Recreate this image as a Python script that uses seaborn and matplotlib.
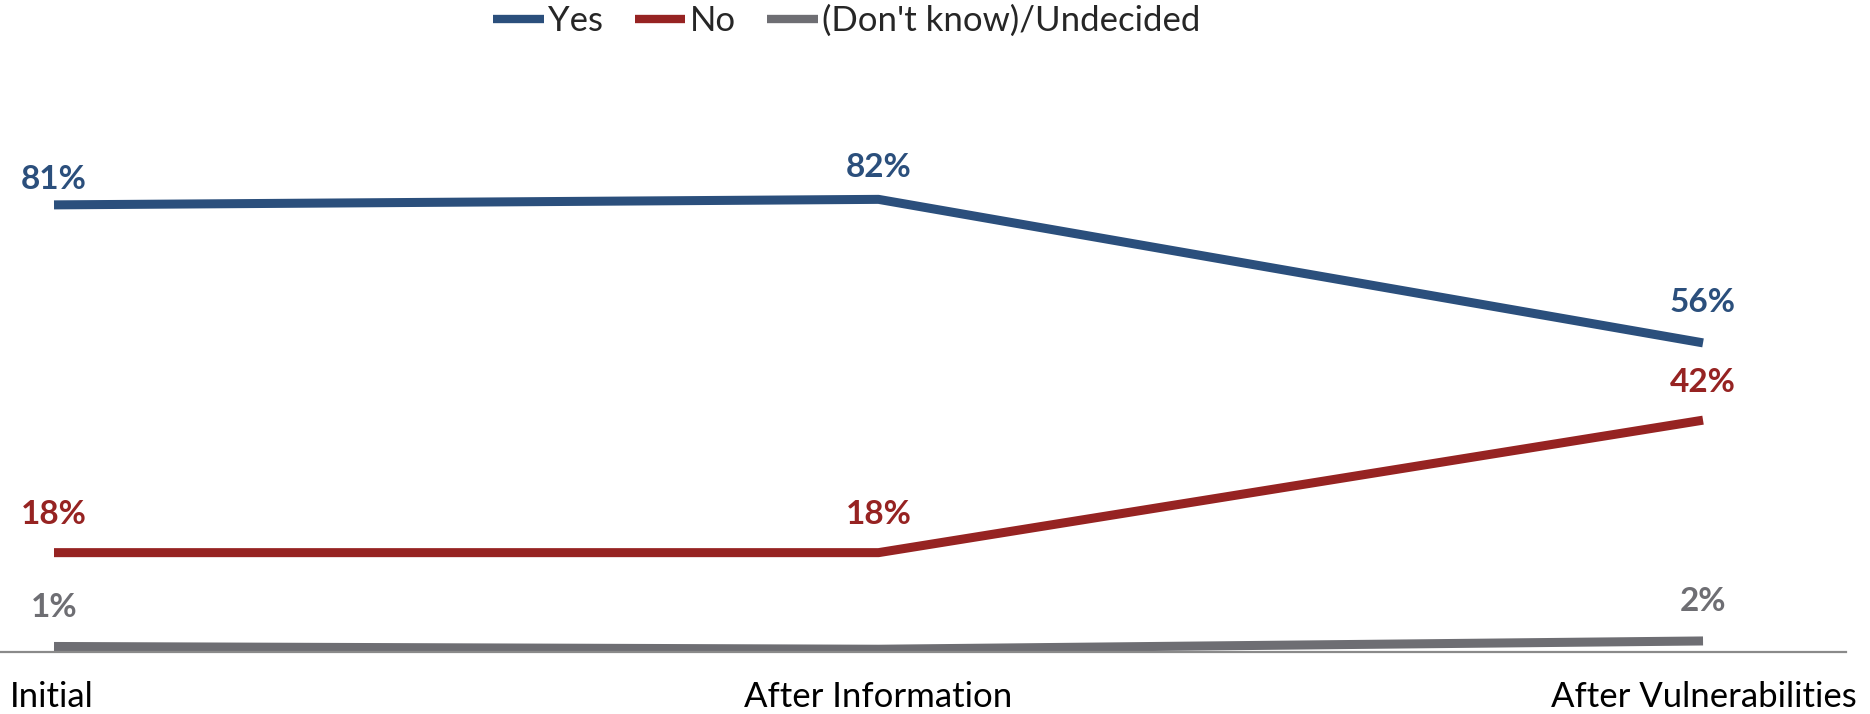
import matplotlib
matplotlib.use('Agg')
import pandas as pd
import numpy as np
import matplotlib.pyplot as plt
import seaborn as sns
from matplotlib.lines import Line2D
from matplotlib.transforms import ScaledTranslation

# data
stages = ['Initial', 'After Information', 'After Vulnerabilities']
series = ['Yes', 'No', "(Don't know)/Undecided"]
yes = [81, 82, 56]
no = [18, 18, 42]
undecided = [1, 0.5, 2]
yes_labels = ['81%', '82%', '56%']
no_labels = ['18%', '18%', '42%']
undecided_labels = ['1%', '', '2%']

colors = {'Yes': '#2B4F7C', 'No': '#962322', "(Don't know)/Undecided": '#6E6E73'}

sns.set_theme(style='white')
plt.rcParams['font.family'] = ['Lato', 'DejaVu Sans']

df = pd.DataFrame({
    'pos': list(range(len(stages))) * 3,
    'value': yes + no + undecided,
    'series': [s for s in series for _ in stages],
})

fig = plt.figure(figsize=(18.7, 7.14), dpi=100)
ax = fig.add_axes([0, 62 / 714, 1846 / 1870, 552 / 714])

sns.lineplot(data=df, x='pos', y='value', hue='series', hue_order=series,
             palette=colors, linewidth=6.5, ax=ax, legend=False)
for ln in ax.get_lines():
    ln.set_solid_capstyle('butt')

ax.set_xlim(-0.0655, 2.1734)
ax.set_ylim(0, 100)
ax.set_xlabel('')
ax.set_ylabel('')
ax.set_yticks([])
for s in ['top', 'right', 'left']:
    ax.spines[s].set_visible(False)
ax.spines['bottom'].set_color('#8A8A8A')
ax.spines['bottom'].set_linewidth(1.6)

ax.set_xticks(range(len(stages)))
ax.set_xticklabels(stages)
ax.tick_params(axis='x', length=0, pad=21, labelsize=25, labelcolor='black')
tl = ax.get_xticklabels()
tl[0].set_ha('left')
tl[0].set_transform(tl[0].get_transform() + ScaledTranslation(-0.44, 0, fig.dpi_scale_trans))
tl[-1].set_ha('right')
tl[-1].set_transform(tl[-1].get_transform() + ScaledTranslation(1.54, 0, fig.dpi_scale_trans))

# data labels
offsets = {'Yes': [25, 32, 40], 'No': [38, 38, 38], "(Don't know)/Undecided": [39, 39, 39]}
for name, vals, labs in zip(series, [yes, no, undecided], [yes_labels, no_labels, undecided_labels]):
    for i, (v, lab) in enumerate(zip(vals, labs)):
        if lab:
            ax.annotate(lab, (i, v), xytext=(0, offsets[name][i]), textcoords='offset pixels',
                        ha='center', va='center', fontsize=24, fontweight='bold',
                        color=colors[name])

handles = [Line2D([0], [0], color=colors[s], linewidth=6, solid_capstyle='butt') for s in series]
fig.legend(handles, series, loc='center', bbox_to_anchor=(847 / 1870, 1 - 21 / 714),
           ncol=3, frameon=False, fontsize=25, handlelength=1.45,
           handletextpad=0.14, columnspacing=0.9)

fig.savefig('out.png', dpi=100)
